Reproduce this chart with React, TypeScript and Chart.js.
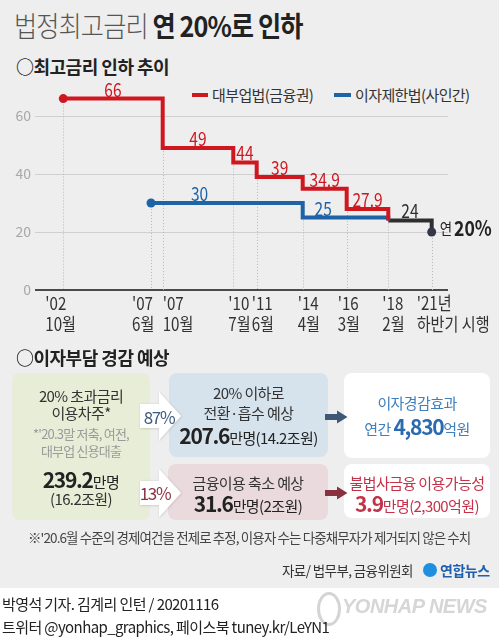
import React, { useEffect, useRef } from 'react';
import { Chart, registerables, LinearScale } from 'chart.js';

// ---------------- data ----------------
const tickDates = ['2002-10', '2007-06', '2007-10', '2010-07', '2011-06', '2014-04', '2016-03', '2018-02', '2021-07'];
const tickLabels: string[][] = [
  ["'02", '10월'], ["'07", '6월'], ["'07", '10월'], ["'10", '7월'], ["'11", '6월'],
  ["'14", '4월'], ["'16", '3월'], ["'18", '2월'], ["'21년", '하반기 시행'],
];
const lenderDates = ['2002-10', '2007-10', '2010-07', '2011-06', '2014-04', '2016-03', '2018-02'];
const lenderRates = [66, 49, 44, 39, 34.9, 27.9, 24];
const privateDates = ['2007-06', '2014-04', '2018-02'];
const privateRates = [30, 25, 24];
const newCapDates = ['2018-02', '2021-07'];
const newCapRates = [24, 20];
const yTickValues = [0, 20, 40, 60];
const seriesNames = ['대부업법(금융권)', '이자제한법(사인간)', '개정'];

// ---------------- layout / style ----------------
const tickFractions = [0.0685, 0.2809, 0.3092, 0.4801, 0.5368, 0.6482, 0.7547, 0.8554, 0.9605];
const tickLabelOffsets = [-18, -19, 0, -5, -5, -5, -9, -6, -15];
const segLabelFracs = [
  [0.5, 0.5, 0.5, 0.5, 0.5, 0.5],
  [0.32, 0.24],
  [0.5],
];
const RED = '#cf1720';
const BLUE = '#1d63a6';
const BLACK = '#2e2e2e';
const DOT_DARK = '#34364a';
const NUM_FONT = "'Noto Sans CJK KR', 'Noto Sans', sans-serif";
const KR_FONT = "'Noto Sans CJK KR', 'Noto Sans', sans-serif";
const CONDENSE = 0.84;

const toYear = (d: string) => {
  const [y, m] = d.split('-').map(Number);
  return y + (m - 1) / 12;
};

class TimelineScale extends LinearScale {
  static id = 'timeline';
  frac(v: number) {
    const xs = tickDates.map(toYear);
    const fs = tickFractions;
    let i = 0;
    if (v >= xs[xs.length - 1]) i = xs.length - 2;
    else if (v > xs[0]) {
      while (i < xs.length - 2 && v > xs[i + 1]) i++;
    }
    return fs[i] + ((v - xs[i]) * (fs[i + 1] - fs[i])) / (xs[i + 1] - xs[i]);
  }
  getPixelForValue(v: number) {
    return this.getPixelForDecimal(this.frac(v));
  }
  getValueForPixel(p: number) {
    const f = this.getDecimalForPixel(p);
    const xs = tickDates.map(toYear);
    const fs = tickFractions;
    let i = 0;
    if (f >= fs[fs.length - 1]) i = fs.length - 2;
    else if (f > fs[0]) {
      while (i < fs.length - 2 && f > fs[i + 1]) i++;
    }
    return xs[i] + ((f - fs[i]) * (xs[i + 1] - xs[i])) / (fs[i + 1] - fs[i]);
  }
}

Chart.register(...registerables, TimelineScale as any);

const fmt = (v: number) => (Number.isInteger(v) ? String(v) : v.toFixed(1));

function condText(ctx: CanvasRenderingContext2D, text: string, x: number, y: number, align: CanvasTextAlign) {
  ctx.save();
  ctx.translate(x, y);
  ctx.scale(CONDENSE, 1);
  ctx.textAlign = align;
  ctx.fillText(text, 0, 0);
  const w = ctx.measureText(text).width * CONDENSE;
  ctx.restore();
  return w;
}

const overlayPlugin = {
  id: 'overlay',
  beforeDatasetsDraw(chart: any) {
    const { ctx, chartArea, scales } = chart;
    const x = scales.x;
    const y = scales.y;
    ctx.save();
    ctx.strokeStyle = '#b8b8b8';
    ctx.lineWidth = 1;
    ctx.setLineDash([1, 2]);
    tickDates.forEach((d) => {
      const v = toYear(d);
      let top = Infinity;
      chart.data.datasets.forEach((ds: any) =>
        ds.data.forEach((p: any) => {
          if (Math.abs(p.x - v) < 1e-6) top = Math.min(top, p.y);
        })
      );
      if (!isFinite(top)) return;
      const px = Math.round(x.getPixelForValue(v)) + 0.5;
      ctx.beginPath();
      ctx.moveTo(px, y.getPixelForValue(top));
      ctx.lineTo(px, chartArea.bottom);
      ctx.stroke();
    });
    ctx.restore();
  },
  afterDatasetsDraw(chart: any) {
    const { ctx, chartArea, scales } = chart;
    const x = scales.x;
    const y = scales.y;
    ctx.save();
    ctx.textBaseline = 'middle';
    // segment value labels
    chart.data.datasets.forEach((ds: any, k: number) => {
      const pts = ds.data;
      ctx.fillStyle = ds.borderColor;
      ctx.font = `18.5px ${NUM_FONT}`;
      for (let i = 0; i < pts.length - 1; i++) {
        const x0 = x.getPixelForValue(pts[i].x);
        const x1 = x.getPixelForValue(pts[i + 1].x);
        const f = segLabelFracs[k][i] ?? 0.5;
        condText(ctx, fmt(pts[i].y), x0 + (x1 - x0) * f, y.getPixelForValue(pts[i].y) - 9, 'center');
      }
    });
    // end annotation
    const last = newCapDates.length - 1;
    const ex = x.getPixelForValue(toYear(newCapDates[last]));
    const ey = y.getPixelForValue(newCapRates[last]);
    ctx.fillStyle = '#222';
    ctx.font = `400 16px ${KR_FONT}`;
    const w = condText(ctx, '연', ex + 8, ey - 3, 'left');
    ctx.font = `bold 21px ${NUM_FONT}`;
    condText(ctx, `${newCapRates[last]}%`, ex + 10 + w, ey - 4, 'left');
    // x tick labels
    ctx.fillStyle = '#333';
    ctx.font = `18px ${NUM_FONT}`;
    tickDates.forEach((d, i) => {
      const px = x.getPixelForValue(toYear(d)) + tickLabelOffsets[i];
      tickLabels[i].forEach((line, j) => {
        condText(ctx, line, px, chartArea.bottom + 13 + j * 21, 'left');
      });
    });
    ctx.restore();
  },
};

function LineText(props: {
  x: number; y: number; w?: number; align?: any; size?: number; color?: string;
  weight?: number; ls?: number; font?: string; children: any;
}) {
  const { x, y, w, align = 'center', size = 15, color = '#333', weight = 400, ls = 0, font = KR_FONT, children } = props;
  return (
    <div
      style={{
        position: 'absolute', left: x, top: y - size, width: w, height: size * 2,
        lineHeight: `${size * 2}px`, textAlign: align, fontSize: size, color, fontWeight: weight,
        letterSpacing: ls, whiteSpace: 'nowrap', fontFamily: font,
      }}
    >
      {children}
    </div>
  );
}

const Box = (p: { x: number; y: number; w: number; h: number; bg: string }) => (
  <div style={{ position: 'absolute', left: p.x, top: p.y, width: p.w, height: p.h, background: p.bg, borderRadius: 8 }} />
);

const Num = (p: { children: any; size?: number; color?: string }) => (
  <span style={{ fontFamily: NUM_FONT, fontWeight: 700, fontSize: p.size ?? 21, color: p.color, letterSpacing: -1.3 }}>{p.children}</span>
);

export default function App() {
  const ref = useRef<HTMLCanvasElement>(null);
  useEffect(() => {
    const chart = new Chart(ref.current as HTMLCanvasElement, {
      type: 'line',
      data: {
        datasets: [
          {
            label: seriesNames[0],
            data: lenderDates.map((d, i) => ({ x: toYear(d), y: lenderRates[i] })),
            borderColor: RED, backgroundColor: RED, borderWidth: 4, stepped: 'before',
            pointRadius: (c: any) => (c.dataIndex === 0 ? 4.5 : 0), pointBorderWidth: 0,
            pointBackgroundColor: RED, fill: false, borderJoinStyle: 'miter', borderCapStyle: 'butt',
          },
          {
            label: seriesNames[1],
            data: privateDates.map((d, i) => ({ x: toYear(d), y: privateRates[i] })),
            borderColor: BLUE, backgroundColor: BLUE, borderWidth: 4, stepped: 'before',
            pointRadius: (c: any) => (c.dataIndex === 0 ? 4.5 : 0), pointBorderWidth: 0,
            pointBackgroundColor: BLUE, fill: false, borderJoinStyle: 'miter', borderCapStyle: 'butt',
          },
          {
            label: seriesNames[2],
            data: newCapDates.map((d, i) => ({ x: toYear(d), y: newCapRates[i] })),
            borderColor: BLACK, backgroundColor: BLACK, borderWidth: 4, stepped: 'before',
            pointRadius: (c: any) => (c.dataIndex === newCapDates.length - 1 ? 4.5 : 0), pointBorderWidth: 0,
            pointBackgroundColor: DOT_DARK, fill: false, borderJoinStyle: 'miter', borderCapStyle: 'butt',
          },
        ] as any,
      },
      options: {
        animation: false,
        responsive: false,
        events: [],
        layout: { padding: { left: 2, right: 51, top: 17, bottom: 50 } },
        plugins: { legend: { display: false }, tooltip: { enabled: false } },
        scales: {
          x: {
            type: 'timeline' as any,
            display: false,
            min: toYear('2001-06'),
            max: toYear('2022-03'),
          },
          y: {
            min: 0,
            max: 70,
            afterBuildTicks: (s: any) => {
              s.ticks = yTickValues.map((v) => ({ value: v }));
            },
            afterFit: (s: any) => {
              s.width = 33;
            },
            border: { display: false },
            grid: {
              drawTicks: false,
              color: (c: any) => (c.tick && c.tick.value === 0 ? '#4a4a4a' : '#cfcfcf'),
              lineWidth: (c: any) => (c.tick && c.tick.value === 0 ? 2 : 1),
            },
            ticks: {
              padding: 4,
              color: '#a8a8a8',
              font: { family: NUM_FONT, size: 14 },
              callback: (v: any) => String(v),
            },
          },
        },
      } as any,
      plugins: [overlayPlugin],
    });
    return () => chart.destroy();
  }, []);

  return (
    <div
      style={{
        position: 'absolute', left: 0, top: 0, width: 499, height: 641, background: '#eeeeee',
        overflow: 'hidden', fontFamily: KR_FONT, color: '#333',
      }}
    >
      {/* title */}
      <div
        style={{
          position: 'absolute', left: 14, top: 5, fontSize: 28, lineHeight: '40px', letterSpacing: -1,
          whiteSpace: 'nowrap', transform: 'scaleX(0.9)', transformOrigin: 'left center',
        }}
      >
        <span style={{ fontWeight: 300, color: '#555' }}>법정최고금리 </span>
        <span style={{ fontWeight: 700, color: '#222' }}>연 20%로 인하</span>
      </div>
      <LineText x={16} y={66} align="left" size={18} weight={700} color="#222" ls={-0.5}>○최고금리 인하 추이</LineText>

      {/* legend */}
      <div style={{ position: 'absolute', left: 192, top: 93, width: 16, height: 4, background: RED }} />
      <LineText x={212} y={95} align="left" size={15} color="#333" ls={-0.6}>{seriesNames[0]}</LineText>
      <div style={{ position: 'absolute', left: 334, top: 93, width: 17, height: 4, background: BLUE }} />
      <LineText x={355} y={95} align="left" size={15} color="#333" ls={-0.6}>{seriesNames[1]}</LineText>

      <canvas ref={ref} width={499} height={270} style={{ position: 'absolute', left: 0, top: 70, width: 499, height: 270 }} />

      <LineText x={16} y={357} align="left" size={18} weight={700} color="#222" ls={-0.5}>○이자부담 경감 예상</LineText>

      {/* boxes */}
      <Box x={12} y={373} w={138} h={147} bg="#e7edd6" />
      <Box x={169} y={373} w={159} h={84} bg="#d6e3ed" />
      <Box x={168} y={464} w={160} h={56} bg="#ebdadd" />
      <Box x={344} y={373} w={146} h={85} bg="#ffffff" />
      <Box x={344} y={464} w={146} h={54} bg="#ffffff" />

      <svg width={499} height={641} style={{ position: 'absolute', left: 0, top: 0 }}>
        <defs>
          <filter id="sh" x="-20%" y="-20%" width="140%" height="140%">
            <feDropShadow dx="0.5" dy="0.5" stdDeviation="0.8" floodColor="#000" floodOpacity="0.18" />
          </filter>
        </defs>
        <polygon points="140,404 159,404 159,392 181,416 159,440 159,428 140,428" fill="#fff" filter="url(#sh)" />
        <polygon points="140,481 159,481 159,469 181,493 159,517 159,505 140,505" fill="#fff" filter="url(#sh)" />
        <polygon points="325,414 337,414 337,410.5 347.5,417 337,423.5 337,420 325,420" fill="#3e5975" />
        <polygon points="325,490 337,490 337,486.5 347.5,493 337,499.5 337,496 325,496" fill="#8a3140" />
      </svg>

      <LineText x={139} y={417} w={40} size={17} color="#3e5b7a" font={NUM_FONT} ls={-1.4}>87%</LineText>
      <LineText x={135} y={493} w={40} size={17} color="#8b3343" font={NUM_FONT} ls={-1.4}>13%</LineText>

      {/* left box text */}
      <LineText x={12} y={396} w={138} size={15} ls={-0.6}>20% 초과금리</LineText>
      <LineText x={12} y={413} w={138} size={15} ls={-0.6}>이용차주*</LineText>
      <LineText x={12} y={434} w={138} size={13} color="#9a9a9a" ls={-0.8}>*'20.3말 저축, 여전,</LineText>
      <LineText x={12} y={451} w={138} size={13} color="#9a9a9a" ls={-0.8}>대부업 신용대출</LineText>
      <LineText x={12} y={479} w={138} size={15} color="#222" ls={-0.5}>
        <Num>239.2</Num>만명
      </LineText>
      <LineText x={12} y={499} w={138} size={15} ls={-0.6}>(16.2조원)</LineText>

      {/* blue box text */}
      <LineText x={169} y={393} w={159} size={15} ls={-0.6}>20% 이하로</LineText>
      <LineText x={169} y={413} w={159} size={15} ls={-0.6}>전환·흡수 예상</LineText>
      <LineText x={169} y={435} w={159} size={15} color="#222" ls={-0.6}>
        <Num>207.6</Num>만명(14.2조원)
      </LineText>

      {/* pink box text */}
      <LineText x={168} y={483} w={160} size={15} ls={-0.6}>금융이용 축소 예상</LineText>
      <LineText x={168} y={503} w={160} size={15} color="#222" ls={-0.6}>
        <Num>31.6</Num>만명(2조원)
      </LineText>

      {/* white boxes text */}
      <LineText x={344} y={403} w={146} size={15} color="#3f7fbd" ls={-0.6}>이자경감효과</LineText>
      <LineText x={344} y={426} w={146} size={15} color="#3f7fbd" ls={-0.6}>
        연간 <Num color="#2a6bb0">4,830</Num>억원
      </LineText>
      <LineText x={344} y={483} w={146} size={15} color="#c43249" ls={-0.6}>불법사금융 이용가능성</LineText>
      <LineText x={344} y={503} w={146} size={15} color="#c43249" ls={-0.6}>
        <Num>3.9</Num>만명(2,300억원)
      </LineText>

      {/* footnote */}
      <LineText x={28} y={537} align="left" size={13.5} color="#444" ls={-0.9}>
        ※'20.6월 수준의 경제여건을 전제로 추정, 이용자 수는 다중채무자가 제거되지 않은 수치
      </LineText>

      <LineText x={282} y={570} align="left" size={13.5} color="#333" ls={-0.6}>자료/ 법무부, 금융위원회</LineText>
      <div style={{ position: 'absolute', left: 423, top: 563, width: 14, height: 14, borderRadius: 7, background: '#1f8fe0' }} />
      <LineText x={440} y={570} align="left" size={14} weight={700} color="#1f5fae" ls={-0.5}>연합뉴스</LineText>

      {/* credits band */}
      <div style={{ position: 'absolute', left: 0, top: 588, width: 499, height: 53, background: '#ffffff' }} />
      <div style={{ position: 'absolute', left: 317, top: 592, width: 18, height: 28, borderRadius: '50%', border: '3px solid #d4d4d4' }} />
      <LineText x={342} y={606} align="left" size={20} weight={700} color="#d6d6d6" font="'Liberation Sans', Arial, sans-serif" ls={-0.5}>
        <i>YONHAP NEWS</i>
      </LineText>
      <LineText x={2} y={604} align="left" size={15} color="#222" ls={-0.6}>박영석 기자. 김계리 인턴 /  20201116</LineText>
      <LineText x={2} y={627} align="left" size={15} color="#222" ls={-0.6}>트위터 @yonhap_graphics, 페이스북 tuney.kr/LeYN1</LineText>
    </div>
  );
}
